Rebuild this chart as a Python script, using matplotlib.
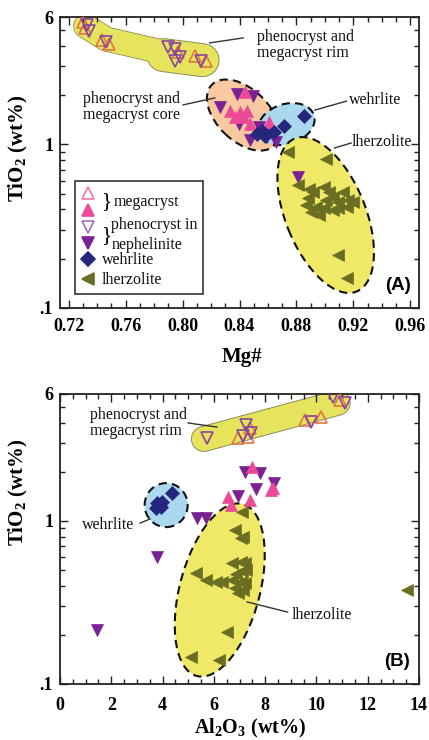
import matplotlib
matplotlib.use('Agg')
import matplotlib.pyplot as plt
from matplotlib.patches import Ellipse, Rectangle
from matplotlib.transforms import IdentityTransform
from matplotlib.ticker import FixedLocator, NullFormatter

plt.rcParams['font.family'] = ['Liberation Serif', 'DejaVu Serif']
plt.rcParams['mathtext.fontset'] = 'custom'
plt.rcParams['mathtext.rm'] = 'Liberation Serif:bold'
plt.rcParams['mathtext.bf'] = 'Liberation Serif:bold'

# ---------------- Panel A data: Mg# vs TiO2 ----------------
A_mega_rim_x = [0.7299, 0.7313, 0.7437, 0.7485, 0.7969, 0.8086, 0.8162]
A_mega_rim_y = [5.58, 5.15, 4.35, 4.10, 3.65, 3.45, 3.22]
A_phen_rim_x = [0.7333, 0.7347, 0.7465, 0.7900, 0.7948, 0.7983, 0.7948, 0.8128]
A_phen_rim_y = [5.35, 4.95, 4.20, 3.92, 3.80, 3.40, 3.22, 3.22]
A_mega_core_x = [0.8438, 0.8335, 0.8404, 0.8452, 0.8431, 0.8473, 0.8604, 0.8370]
A_mega_core_y = [2.08, 1.59, 1.57, 1.59, 1.46, 1.33, 1.36, 1.47]
A_phen_core_x = [0.8383, 0.8494, 0.8266, 0.8397, 0.8535, 0.8473, 0.8659, 0.8576, 0.8811]
A_phen_core_y = [2.03, 1.97, 1.69, 1.33, 1.27, 1.07, 1.04, 1.15, 0.63]
A_wehr_x = [0.8556, 0.8576, 0.8639, 0.8715, 0.8853, 0.8521]
A_wehr_y = [1.20, 1.12, 1.19, 1.29, 1.49, 1.15]
A_lherz_x = [0.8742, 0.9005, 0.8811, 0.8887, 0.8915, 0.8880, 0.8867, 0.8901,
             0.8956, 0.8991, 0.9025, 0.9005, 0.9053, 0.9088, 0.9129, 0.9164,
             0.9198, 0.9157, 0.9094, 0.9053, 0.8991, 0.8936, 0.9088, 0.9157]
A_lherz_y = [0.893, 0.809, 0.568, 0.530, 0.508, 0.473, 0.428, 0.388,
             0.372, 0.545, 0.508, 0.460, 0.480, 0.447, 0.508, 0.460,
             0.447, 0.417, 0.411, 0.399, 0.411, 0.417, 0.211, 0.153]

# ---------------- Panel B data: Al2O3 vs TiO2 ----------------
B_mega_rim_x = [6.96, 7.35, 9.55, 10.17, 10.90, 7.42]
B_mega_rim_y = [3.23, 3.28, 4.17, 4.35, 5.53, 3.72]
B_phen_rim_x = [5.72, 7.15, 7.27, 7.46, 9.78, 10.63, 11.10]
B_phen_rim_y = [3.23, 3.32, 3.88, 3.47, 4.05, 5.77, 5.30]
B_mega_core_x = [7.50, 8.31, 8.24, 6.57, 6.65, 7.42]
B_mega_core_y = [2.14, 1.59, 1.55, 1.40, 1.25, 1.35]
B_phen_core_x = [7.23, 7.81, 7.66, 8.35, 6.96, 5.34, 5.68, 3.79, 1.43]
B_phen_core_y = [2.00, 1.97, 1.57, 1.71, 1.42, 1.04, 1.04, 0.60, 0.214]
B_wehr_x = [4.37, 3.79, 3.94, 3.75, 3.98, 3.85]
B_wehr_y = [1.48, 1.29, 1.22, 1.20, 1.31, 1.25]
B_lherz_x = [7.08, 6.84, 7.15, 7.04, 6.69, 7.04, 7.23, 7.27, 7.08, 6.88, 6.69, 7.04,
             7.23, 6.84, 7.15, 6.96, 5.30, 5.68, 6.07, 6.30, 6.50, 5.10, 6.19, 13.53]
B_lherz_y = [1.14, 0.88, 0.80, 0.79, 0.55, 0.56, 0.55, 0.50, 0.49, 0.47, 0.435, 0.42,
             0.417, 0.39, 0.377, 0.36, 0.48, 0.435, 0.42, 0.42, 0.208, 0.146, 0.140, 0.377]

A_xticks = [0.72, 0.76, 0.80, 0.84, 0.88, 0.92, 0.96]
A_xticklabels = ['0.72', '0.76', '0.80', '0.84', '0.88', '0.92', '0.96']
B_xticks = [0, 2, 4, 6, 8, 10, 12, 14]
B_xticklabels = ['0', '2', '4', '6', '8', '10', '12', '14']
y_ticks = [0.1, 1, 6]
y_ticklabels = ['.1', '1', '6']

# colours
C_PINK = '#ec4a96'
C_PURP = '#7a2194'
C_NAVY = '#25267c'
C_OLIVE = '#6a6e22'
C_RIM_UP = '#e2763e'
C_RIM_DN = '#8a449e'
C_YEL = '#efe967'
C_RIMYEL = '#e6e45c'
C_PEACH = '#f8c9a0'
C_BLUE = '#a9d8ef'

fig = plt.figure(figsize=(4.29, 7.40), dpi=100)
axA = fig.add_axes([60/429, 1-308/740, 359/429, 291/740])
axB = fig.add_axes([60/429, 1-684/740, 359/429, 290/740])


def style(ax, xlim, xticks, xticklabels, minor_step, xpad):
    ax.set_yscale('log')
    ax.set_ylim(0.1, 6)
    ax.set_xlim(*xlim)
    ax.set_yticks(y_ticks)
    ax.set_yticklabels(y_ticklabels)
    ax.yaxis.set_minor_locator(FixedLocator([0.2, 0.3, 0.4, 0.5, 0.6, 0.7, 0.8, 0.9, 2, 3, 4, 5]))
    ax.yaxis.set_minor_formatter(NullFormatter())
    ax.set_xticks(xticks)
    ax.set_xticklabels(xticklabels)
    ax.xaxis.set_minor_locator(plt.MultipleLocator(minor_step))
    ax.tick_params(which='both', direction='in', top=True, right=True, width=1.0,
                   color='#222222', labelsize=13)
    ax.tick_params(which='major', length=6)
    ax.tick_params(which='minor', length=3.5)
    ax.tick_params(axis='x', pad=xpad)
    ax.tick_params(axis='y', pad=5)
    for lab in ax.get_xticklabels() + ax.get_yticklabels():
        lab.set_fontweight('bold')
    for s in ax.spines.values():
        s.set_linewidth(1.3)
        s.set_color('#222222')


style(axA, (0.714, 0.966), A_xticks, A_xticklabels, 0.01, 7)
style(axB, (0, 14), B_xticks, B_xticklabels, 0.5, 9)


def ellipse(ax, x, y, w, h, ang, fc, z):
    cx, cy = ax.transData.transform((x, y))
    e = Ellipse((cx, cy), w, h, angle=ang, transform=IdentityTransform(),
                facecolor=fc, edgecolor='#111111', lw=1.5, ls=(0, (4, 2.5)), zorder=z)
    ax.add_patch(e)


def band(ax, xs, ys, width_px, z):
    wpt = width_px * 0.72
    ax.plot(xs, ys, color='#8c8a5a', lw=wpt + 1.4, solid_capstyle='round',
            solid_joinstyle='round', zorder=z)
    ax.plot(xs, ys, color=C_RIMYEL, lw=wpt, solid_capstyle='round',
            solid_joinstyle='round', zorder=z + 0.05)


# ---------- Panel A regions ----------
band(axA, [0.7320, 0.7465, 0.7920], [5.28, 4.40, 3.56], 23, 1.0)
band(axA, [0.7865, 0.8141], [3.51, 3.27], 32, 1.0)
axA.plot([0.7320, 0.7465, 0.7920], [5.28, 4.40, 3.56], color=C_RIMYEL, lw=23*0.72,
         solid_capstyle='round', solid_joinstyle='round', zorder=1.1)
ellipse(axA, 0.8425, 1.51, 87, 52, -44, C_PEACH, 1.2)
ellipse(axA, 0.8729, 1.33, 58, 40, 18, C_BLUE, 1.3)
ellipse(axA, 0.9005, 0.370, 165, 80, -68, C_YEL, 1.4)

# ---------- Panel B regions ----------
band(axB, [5.61, 10.83], [3.18, 5.30], 24, 1.0)
ellipse(axB, 4.14, 1.25, 43, 44, 0, C_BLUE, 1.2)
ellipse(axB, 6.23, 0.377, 178, 80, 75, C_YEL, 1.3)


def markers(ax, mr_x, mr_y, pr_x, pr_y, mc_x, mc_y, pc_x, pc_y, w_x, w_y, l_x, l_y):
    ax.plot(mr_x, mr_y, ls='none', marker='^', ms=9, mfc='none', mec=C_RIM_UP, mew=1.2, zorder=3)
    ax.plot(pr_x, pr_y, ls='none', marker='v', ms=9, mfc='none', mec=C_RIM_DN, mew=1.2, zorder=3)
    ax.plot(pc_x, pc_y, ls='none', marker='v', ms=9, mfc=C_PURP, mec=C_PURP, mew=0.5, zorder=3.2)
    ax.plot(mc_x, mc_y, ls='none', marker='^', ms=9, mfc=C_PINK, mec=C_PINK, mew=0.5, zorder=3.3)
    ax.plot(w_x, w_y, ls='none', marker='D', ms=7, mfc=C_NAVY, mec=C_NAVY, mew=0.5, zorder=3.4)
    ax.plot(l_x, l_y, ls='none', marker='<', ms=9, mfc=C_OLIVE, mec=C_OLIVE, mew=0.5, zorder=3.5)


markers(axA, A_mega_rim_x, A_mega_rim_y, A_phen_rim_x, A_phen_rim_y, A_mega_core_x, A_mega_core_y,
        A_phen_core_x, A_phen_core_y, A_wehr_x, A_wehr_y, A_lherz_x, A_lherz_y)
markers(axB, B_mega_rim_x, B_mega_rim_y, B_phen_rim_x, B_phen_rim_y, B_mega_core_x, B_mega_core_y,
        B_phen_core_x, B_phen_core_y, B_wehr_x, B_wehr_y, B_lherz_x, B_lherz_y)


def note(ax, tx, ty, s, lx, ly):
    ax.text(tx, ty, s, transform=ax.transAxes, fontsize=11.5, ha='left', va='center',
            linespacing=1.05, color='#111111', zorder=6)
    ax.plot(lx, ly, transform=ax.transAxes, color='#333333', lw=1.0, zorder=5, clip_on=False)


note(axA, 0.548, 0.904, 'phenocryst and\nmegacryst rim', [0.417, 0.510], [0.911, 0.928])
note(axA, 0.064, 0.691, 'phenocryst and\nmegacryst core', [0.343, 0.431], [0.698, 0.722])
note(axA, 0.805, 0.715, 'wehrlite', [0.710, 0.798], [0.680, 0.711])
note(axA, 0.813, 0.570, 'lherzolite', [0.765, 0.811], [0.550, 0.567])
note(axB, 0.083, 0.900, 'phenocryst and\nmegacryst rim', [0.357, 0.437], [0.900, 0.886])
note(axB, 0.061, 0.548, 'wehrlite', [0.223, 0.251], [0.555, 0.569])
note(axB, 0.646, 0.238, 'lherzolite', [0.521, 0.634], [0.283, 0.248])

axA.text(0.942, 0.076, '(A)', transform=axA.transAxes, family='Liberation Sans',
         weight='bold', fontsize=13.5, ha='center', va='center', zorder=6)
axB.text(0.939, 0.076, '(B)', transform=axB.transAxes, family='Liberation Sans',
         weight='bold', fontsize=13.5, ha='center', va='center', zorder=6)

# ---------- legend in panel A ----------
axA.add_patch(Rectangle((0.041, 0.048), 0.357, 0.388, transform=axA.transAxes,
                        facecolor='white', edgecolor='#333333', lw=1.2, zorder=4))
leg = [
    (0.395, '^', 'none', '#ef7aa8', 9),
    (0.337, '^', C_PINK, C_PINK, 9),
    (0.278, 'v', 'none', '#a070c0', 9),
    (0.223, 'v', C_PURP, C_PURP, 9),
    (0.170, 'D', C_NAVY, C_NAVY, 7),
    (0.100, '<', C_OLIVE, C_OLIVE, 9),
]
for yy, m, fc, ec, ms in leg:
    axA.plot([0.078], [yy], transform=axA.transAxes, ls='none', marker=m, ms=ms,
             mfc=fc, mec=ec, mew=1.2, zorder=5, clip_on=False)
lt = dict(transform=axA.transAxes, fontsize=11.5, va='center', ha='left', zorder=5, color='#111111')
axA.text(0.114, 0.366, '}', fontsize=15, transform=axA.transAxes, va='center', ha='left', zorder=5)
axA.text(0.149, 0.364, 'megacryst', **lt)
axA.text(0.114, 0.250, '}', fontsize=15, transform=axA.transAxes, va='center', ha='left', zorder=5)
axA.text(0.141, 0.285, 'phenocryst in', **lt)
axA.text(0.145, 0.216, 'nephelinite', **lt)
axA.text(0.117, 0.165, 'wehrlite', **lt)
axA.text(0.117, 0.096, 'lherzolite', **lt)

# ---------- axis labels ----------
axA.set_xlabel('Mg#', fontsize=15, fontweight='bold')
axA.xaxis.set_label_coords(0.507, -0.134)
axA.set_ylabel(r'TiO$_{\mathrm{2}}$ (wt%)', fontsize=15, fontweight='bold')
axA.yaxis.set_label_coords(-0.084, 0.55)
axB.set_xlabel(r'Al$_{\mathrm{2}}$O$_{\mathrm{3}}$ (wt%)', fontsize=14.5, fontweight='bold')
axB.xaxis.set_label_coords(0.53, -0.112)
axB.set_ylabel(r'TiO$_{\mathrm{2}}$ (wt%)', fontsize=15, fontweight='bold')
axB.yaxis.set_label_coords(-0.084, 0.662)

fig.savefig('out.png', dpi=100)
